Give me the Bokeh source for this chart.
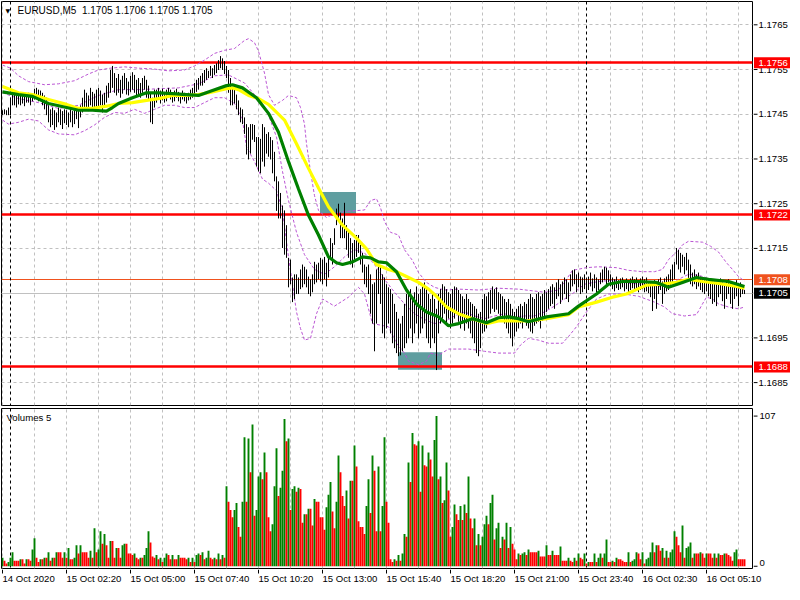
from bokeh.plotting import figure
from bokeh.layouts import column, row
from bokeh.models import FixedTicker, Label, Range1d
from bokeh.embed import file_html
from bokeh.resources import INLINE
from bokeh.core.properties import value

# ---------------- data ----------------
BASE_PRICE = 1.1700   # all "pips" values below are offsets from this price
PIP = 0.0001

bar_high_pips = [
    45.9, 46.1, 45.9, 46.5, 48.7, 49.8, 50.3, 49.4, 49.8, 49.2,
    49.6, 49.0, 49.4, 49.8, 49.2, 49.6, 50.7, 50.9, 50.5, 50.3,
    49.8, 49.2, 48.7, 47.0, 46.1, 46.5, 45.9, 45.4, 46.5, 46.1,
    45.7, 46.1, 45.9, 45.4, 46.1, 45.7, 46.1, 46.5, 46.1, 47.0,
    48.7, 50.5, 49.8, 49.2, 50.9, 50.0, 49.6, 50.5, 50.9, 50.3,
    49.4, 49.8, 51.4, 52.0, 54.9, 55.8, 54.2, 53.1, 54.0, 52.7,
    53.6, 54.2, 53.1, 52.3, 53.6, 54.4, 53.8, 52.7, 53.1, 52.0,
    53.1, 53.6, 52.7, 51.4, 49.8, 48.7, 50.5, 50.5, 50.9, 50.3,
    50.7, 50.0, 50.5, 50.9, 50.5, 49.8, 50.3, 50.7, 50.0, 49.6,
    50.3, 49.8, 49.4, 49.8, 50.5, 50.9, 52.0, 52.7, 53.1, 53.6,
    54.2, 54.9, 55.3, 54.7, 55.8, 55.3, 56.0, 56.4, 57.1, 58.0,
    57.5, 56.9, 55.8, 54.9, 53.1, 50.9, 50.5, 49.4, 48.1, 46.5,
    46.1, 44.3, 42.8, 42.1, 42.8, 42.8, 42.6, 39.9, 39.9, 39.5,
    42.8, 42.1, 40.6, 41.0, 39.9, 39.2, 36.6, 31.1, 30.0, 27.4,
    24.6, 23.5, 20.2, 12.9, 12.5, 8.5, 9.2, 9.2, 8.5, 10.3,
    11.4, 10.9, 10.3, 8.7, 8.1, 9.2, 12.0, 11.4, 11.8, 12.9,
    12.5, 13.1, 11.8, 13.6, 17.3, 16.2, 19.5, 23.9, 25.0, 23.0,
    21.7, 25.2, 20.2, 19.1, 17.3, 16.2, 16.9, 18.0, 18.0, 15.8,
    14.0, 11.4, 10.9, 11.4, 9.2, 7.0, 7.4, 10.3, 11.4, 10.9,
    9.2, 8.5, 7.0, 6.3, 5.9, 4.8, 2.6, 0.8, -0.7, -1.8,
    -0.1, 2.6, 4.8, 4.8, 5.9, 3.7, 5.2, 6.5, 4.8, 5.9,
    7.0, 7.4, 5.9, 4.8, 3.7, 4.8, 3.7, 1.5, 4.8, 5.9,
    7.0, 6.5, 5.9, 5.2, 4.8, 5.9, 6.5, 6.3, 5.7, 4.8,
    4.3, 3.7, 4.8, 3.7, 3.0, 2.6, 2.1, 1.5, 0.4, 0.8,
    3.7, 4.8, 4.3, 5.2, 5.7, 6.5, 5.9, 6.3, 5.2, 4.8,
    4.3, 3.7, 3.0, 3.7, 2.6, 1.5, 0.8, 1.5, 2.1, 2.6,
    2.1, 3.0, 2.6, 3.7, 4.8, 4.1, 3.7, 4.8, 5.2, 4.3,
    4.8, 5.7, 5.2, 5.9, 6.5, 7.0, 6.3, 7.4, 8.1, 7.0,
    7.6, 8.5, 8.1, 7.4, 9.2, 10.1, 10.3, 9.2, 9.6, 8.7,
    8.5, 9.2, 8.1, 8.7, 9.6, 8.3, 9.2, 8.5, 8.1, 9.6,
    10.3, 10.9, 10.7, 10.1, 9.2, 8.5, 8.1, 8.7, 7.9, 8.3,
    8.5, 7.9, 8.3, 7.6, 8.3, 8.7, 8.1, 8.5, 7.9, 8.3,
    8.7, 8.1, 8.5, 7.6, 7.4, 7.0, 7.9, 7.4, 8.1, 8.5,
    7.6, 8.3, 8.7, 9.2, 10.3, 11.4, 12.0, 15.1, 14.7, 14.0,
    13.6, 13.1, 14.0, 12.5, 11.4, 9.6, 10.3, 9.2, 9.6, 8.7,
    8.5, 8.1, 8.3, 7.9, 7.4, 8.1, 7.6, 7.0, 7.9, 8.3,
    7.4, 7.0, 7.6, 8.1, 7.2, 6.5, 7.4, 7.9, 7.0, 7.4,
    6.5, 5.7,
]

bar_low_pips = [
    44.8, 45.0, 44.8, 44.8, 44.8, 47.0, 47.0, 46.5, 47.2, 47.0,
    47.4, 46.8, 47.6, 47.6, 47.0, 47.9, 48.3, 48.7, 47.9, 48.1,
    47.0, 46.1, 44.8, 43.2, 42.1, 42.6, 41.5, 42.1, 43.2, 42.6,
    41.7, 43.0, 42.6, 42.1, 43.2, 42.1, 42.8, 43.9, 41.9, 44.3,
    45.4, 46.5, 46.1, 45.7, 47.0, 46.1, 45.7, 46.5, 46.1, 47.0,
    45.4, 46.5, 47.6, 48.7, 49.8, 50.9, 49.8, 49.2, 49.8, 48.7,
    49.6, 50.5, 49.4, 49.2, 50.0, 50.5, 49.8, 49.2, 49.4, 48.7,
    49.8, 50.5, 48.7, 48.1, 43.2, 42.8, 46.5, 47.6, 48.3, 47.4,
    48.1, 47.6, 47.9, 48.7, 48.3, 47.6, 47.9, 48.7, 47.9, 47.4,
    48.3, 47.9, 47.4, 48.1, 48.3, 48.7, 49.4, 50.0, 50.5, 51.4,
    51.4, 52.0, 52.7, 53.1, 53.6, 53.1, 53.8, 54.2, 54.9, 55.3,
    54.9, 54.0, 53.1, 49.8, 47.0, 47.0, 47.4, 46.1, 44.8, 43.2,
    42.8, 40.6, 36.0, 34.9, 36.2, 39.3, 38.8, 33.3, 32.2, 31.8,
    34.4, 33.3, 36.2, 35.5, 34.9, 31.8, 30.0, 23.4, 21.7, 21.7,
    15.1, 13.6, 12.9, 6.3, 7.0, 3.0, 3.7, 4.8, 4.8, 5.9,
    6.3, 7.0, 6.3, 4.8, 4.3, 5.2, 7.0, 7.4, 8.1, 7.6,
    7.0, 8.1, 6.5, 8.5, 12.9, 11.4, 15.8, 20.2, 21.3, 17.3,
    17.3, 17.3, 14.7, 12.9, 11.4, 10.7, 12.5, 13.1, 14.0, 11.4,
    9.6, 7.0, 6.3, 4.8, 0.4, -1.8, -8.0, -1.8, 4.8, 2.6,
    -4.0, -5.1, -2.9, -1.8, -4.0, -6.2, -7.3, -8.4, -9.1, -8.9,
    -8.0, -7.3, -6.2, -5.1, -2.9, -6.2, -4.0, -1.8, -5.1, -4.0,
    -2.9, -1.8, -5.1, -6.2, -7.3, -5.1, -6.2, -12.2, -4.0, -1.8,
    -0.7, 0.4, -1.8, -0.7, -2.9, -1.8, -0.7, 0.4, -1.4, -2.9,
    -1.8, -3.4, -1.8, -2.9, -4.0, -5.1, -6.2, -8.4, -9.1, -7.3,
    -4.0, -3.6, -2.9, -0.7, 0.4, 1.5, 0.8, 1.3, 0.4, -0.1,
    -0.7, -1.8, -2.9, -4.0, -5.1, -6.9, -4.7, -3.6, -2.9, -1.8,
    -2.9, -1.4, -2.3, -2.9, -3.6, -4.0, -2.3, -1.8, -1.4, -2.9,
    -1.2, -0.1, 0.8, 1.5, 2.1, 2.6, 1.5, 3.7, 4.3, 2.6,
    3.5, 4.8, 3.7, 3.0, 5.4, 6.5, 7.0, 5.2, 6.3, 4.8,
    5.2, 5.9, 5.0, 5.7, 6.5, 5.4, 6.1, 5.2, 5.7, 7.0,
    7.4, 7.9, 7.0, 7.4, 6.5, 5.9, 5.4, 6.1, 5.7, 5.9,
    6.3, 5.4, 5.9, 5.2, 5.7, 6.1, 5.4, 5.9, 5.2, 5.7,
    5.9, 5.2, 5.4, 5.0, 4.1, 1.0, 3.7, 1.5, 4.8, 5.7,
    2.6, 4.8, 5.4, 5.7, 6.5, 7.4, 8.1, 11.4, 10.3, 9.6,
    10.9, 9.2, 10.1, 8.1, 7.0, 6.5, 7.0, 5.9, 6.5, 5.7,
    5.2, 4.8, 5.4, 4.3, 3.7, 2.6, 3.0, 2.1, 4.1, 4.8,
    3.2, 1.5, 3.7, 4.8, 2.6, 1.5, 3.7, 4.3, 2.1, 4.1,
    4.8, 4.8,
]

volumes = [
    6, 4, 2, 3, 6, 10, 4, 4, 4, 5,
    5, 2, 5, 5, 4, 12, 20, 6, 3, 5,
    5, 6, 6, 10, 4, 6, 6, 10, 10, 10,
    6, 10, 6, 13, 5, 5, 6, 15, 9, 15,
    10, 10, 10, 6, 11, 6, 27, 10, 12, 25,
    16, 23, 15, 6, 18, 18, 6, 13, 13, 6,
    15, 16, 16, 9, 9, 8, 9, 6, 5, 6,
    6, 8, 13, 25, 17, 7, 6, 8, 5, 6,
    3, 6, 9, 8, 5, 8, 5, 5, 8, 6,
    6, 6, 5, 6, 3, 6, 3, 8, 9, 8,
    10, 5, 6, 11, 6, 5, 6, 5, 9, 5,
    8, 6, 57, 46, 40, 35, 40, 45, 28, 21,
    46, 92, 46, 91, 67, 101, 36, 40, 64, 67,
    62, 81, 67, 35, 25, 30, 57, 84, 50, 56,
    68, 105, 89, 91, 40, 55, 57, 53, 56, 55,
    31, 37, 37, 41, 41, 29, 48, 46, 46, 35,
    35, 26, 42, 51, 60, 39, 27, 46, 79, 67,
    50, 43, 54, 34, 61, 61, 86, 71, 32, 28,
    28, 23, 43, 62, 38, 79, 68, 25, 71, 25,
    43, 92, 46, 31, 5, 3, 5, 4, 8, 4,
    9, 23, 21, 74, 60, 95, 87, 86, 89, 53,
    86, 72, 71, 81, 76, 64, 90, 107, 62, 64,
    45, 47, 74, 54, 21, 28, 44, 37, 33, 43,
    33, 44, 38, 64, 34, 27, 34, 15, 23, 15,
    21, 30, 36, 30, 45, 51, 19, 27, 31, 13,
    21, 19, 31, 13, 28, 16, 12, 5, 9, 8,
    9, 10, 8, 12, 10, 10, 10, 10, 11, 7,
    7, 7, 15, 8, 8, 11, 8, 8, 8, 14,
    4, 4, 4, 6, 4, 3, 6, 4, 9, 6,
    5, 9, 2, 3, 3, 3, 9, 3, 6, 9,
    6, 9, 19, 3, 3, 4, 3, 6, 5, 5,
    4, 3, 3, 10, 3, 4, 5, 10, 9, 5,
    10, 2, 5, 6, 10, 17, 10, 15, 15, 11,
    13, 6, 11, 6, 10, 12, 25, 21, 15, 10,
    29, 6, 13, 14, 17, 6, 9, 9, 9, 10,
    9, 6, 9, 9, 9, 6, 9, 6, 9, 8,
    8, 9, 9, 8, 7, 4, 10, 12, 5, 5,
    5, 5,
]

# moving averages (read at sample bars)
ma_slow_bars = [0, 8, 15, 23, 32, 38, 45, 52, 58, 65, 72, 78, 85, 92, 98, 105, 112, 115, 118, 123,
                128, 133, 141, 147, 153, 158, 163, 170, 177, 182, 187, 193, 198, 203, 208, 213, 217, 222, 228, 235,
                242, 248, 255, 263, 272, 283, 288, 297, 305, 312, 322, 330, 337, 343, 350, 358, 367, 371]
ma_slow_pips = [51.2, 49.8, 49.4, 48.3, 47.2, 46.3, 46.3, 46.8, 47.4, 47.6, 48.1, 48.5, 49.2, 49.2, 49.4, 50.0, 50.7, 50.9, 50.5, 49.2,
                48.5, 47.2, 43.7, 38.4, 32.9, 28.5, 24.3, 20.2, 17.3, 14.9, 11.4, 10.3, 9.6, 8.5, 7.4, 5.9, 4.3, 1.9, 0.4, -0.7,
                -1.8, -1.2, -1.2, -1.2, -0.7, 0.2, 1.9, 3.0, 4.1, 4.8, 6.8, 7.0, 7.4, 8.1, 7.6, 7.2, 6.5, 6.1]

ma_fast_bars = [0, 8, 15, 23, 32, 38, 45, 52, 55, 58, 65, 72, 78, 85, 92, 98, 105, 112, 115, 120,
                127, 133, 138, 143, 148, 153, 158, 163, 167, 170, 175, 180, 184, 188, 192, 197, 202, 207, 212, 218,
                223, 228, 235, 242, 248, 253, 258, 263, 272, 283, 288, 297, 303, 310, 318, 327, 333, 340, 347, 353,
                363, 371]
ma_fast_pips = [50.0, 49.4, 49.0, 47.4, 46.5, 45.9, 45.9, 45.7, 46.5, 47.4, 48.7, 49.8, 49.8, 49.6, 49.4, 49.2, 50.3, 51.4, 51.6, 50.9,
                48.7, 45.2, 41.0, 34.4, 28.3, 22.4, 18.0, 13.1, 11.8, 11.4, 12.0, 13.1, 12.9, 12.0, 11.8, 9.8, 5.7, 2.6, 0.8, -0.3,
                -2.3, -1.8, -0.7, -1.6, -0.5, -0.3, -0.7, -1.4, -0.3, 0.4, 2.1, 4.8, 7.0, 7.6, 7.6, 7.4, 6.3, 7.4, 8.5, 8.1,
                7.6, 6.5]

# Bollinger bands (read at sample bars)
bb_upper_bars = [0, 4, 8, 13, 21, 28, 36, 43, 48, 54, 61, 68, 76, 83, 91, 96, 101, 106, 111, 116,
                 121, 123, 126, 128, 131, 133, 136, 140, 143, 147, 149, 151, 152, 154, 156, 158, 162, 167, 173, 181,
                 184, 187, 189, 191, 194, 198, 201, 205, 208, 212, 216, 221, 228, 238, 248, 258, 271, 278, 282, 285,
                 292, 298, 307, 313, 320, 326, 330, 333, 337, 340, 343, 350, 354, 358, 362, 365, 368, 371]
bb_upper_pips = [56.0, 55.3, 53.6, 52.3, 51.6, 51.8, 52.5, 54.0, 54.9, 55.3, 55.6, 55.3, 55.1, 54.7, 54.9, 55.8, 57.1, 58.6, 59.3, 59.7,
                 61.5, 61.9, 61.0, 59.1, 54.2, 49.4, 47.0, 48.1, 49.2, 48.7, 46.5, 42.8, 38.4, 32.2, 26.8, 23.5, 21.9, 23.0, 23.3, 23.6,
                 25.7, 26.1, 24.1, 21.0, 18.6, 18.0, 14.7, 12.3, 9.6, 7.4, 6.3, 5.7, 5.9, 5.7, 6.1, 5.9, 5.2, 5.7, 8.1, 10.1,
                 10.7, 10.9, 10.7, 10.1, 9.8, 9.8, 10.3, 12.5, 14.2, 15.8, 16.6, 16.4, 15.5, 14.2, 11.8, 10.3, 8.7, 7.7]

bb_mid_bars = [0, 8, 18, 28, 38, 48, 58, 68, 78, 88, 98, 106, 113, 121, 126, 131, 133, 137, 140, 143,
               147, 151, 156, 161, 166, 171, 176, 181, 186, 191, 196, 201, 206, 211, 216, 221, 226, 231, 236, 241,
               246, 251, 256, 261, 266, 271, 276, 281, 286, 291, 298, 306, 313, 321, 328, 333, 338, 343, 348, 353,
               361, 371]
bb_mid_pips = [49.8, 48.5, 47.6, 46.3, 47.0, 49.2, 50.5, 50.5, 50.7, 50.9, 51.8, 53.6, 53.8, 52.0, 49.4, 46.5, 44.8, 39.9, 32.2, 25.7,
               18.6, 13.6, 10.3, 9.2, 10.9, 13.1, 14.7, 14.0, 11.4, 8.1, 5.2, 2.6, 0.4, -0.9, -1.8, -1.4, -0.1, 0.8, -0.1, -0.7,
               -0.1, 0.4, -0.3, -0.1, -0.1, 0.8, 2.1, 3.7, 5.2, 7.0, 7.6, 7.9, 7.2, 7.0, 6.5, 6.5, 8.1, 9.2, 9.0, 8.3,
               7.0, 5.7]

bb_lower_bars = [0, 3, 8, 13, 18, 23, 28, 36, 41, 46, 51, 56, 61, 66, 71, 76, 81, 86, 91, 96,
                 101, 106, 111, 116, 120, 122, 126, 130, 133, 137, 140, 143, 147, 149, 151, 154, 157, 160, 166, 173,
                 178, 181, 185, 193, 197, 201, 203, 208, 212, 214, 218, 223, 233, 241, 248, 256, 259, 263, 268, 273,
                 280, 283, 287, 292, 297, 303, 311, 318, 326, 331, 335, 341, 347, 350, 352, 355, 358, 363, 368, 371]
bb_lower_pips = [43.7, 42.8, 43.2, 43.9, 43.5, 41.5, 40.6, 40.4, 41.3, 42.6, 44.3, 45.4, 45.2, 46.1, 45.2, 46.1, 47.0, 47.0, 46.5, 46.5,
                 47.6, 48.7, 48.7, 47.4, 43.7, 37.7, 34.4, 30.5, 29.6, 27.9, 23.5, 13.1, 0.8, -2.9, -5.5, -5.1, 0.4, 3.7, 2.1, 4.1,
                 6.3, 4.8, -1.8, -2.5, -6.2, -8.4, -10.2, -11.0, -10.2, -8.4, -8.9, -7.5, -7.5, -8.0, -8.4, -8.4, -6.6, -5.1, -5.5, -6.2,
                 -6.2, -4.7, -2.5, 0.8, 3.7, 4.8, 4.8, 4.3, 3.0, 1.9, 0.4, -0.1, 0.2, 2.6, 4.1, 3.7, 2.6, 1.9, 1.5, 1.9]

# levels and zones
level_prices = [1.17565, 1.17225, 1.16885]
level_texts = ["1.1756", "1.1722", "1.1688"]
ask_price, ask_text = 1.1708, "1.1708"
bid_price, bid_text = 1.1705, "1.1705"
zone_left = [158.75, 197.75]
zone_right = [176.75, 219.75]
zone_top = [1.17276, 1.16918]
zone_bottom = [1.17226, 1.16879]

# axes
price_ticks = [1.1685, 1.1695, 1.1705, 1.1715, 1.1725, 1.1735, 1.1745, 1.1755, 1.1765]
price_tick_labels = ["1.1685", "1.1695", "1.1705", "1.1715", "1.1725", "1.1735", "1.1745", "1.1755", "1.1765"]
volume_ticks = [0, 107]
volume_tick_labels = ["0", "107"]
time_label_bars = [0, 32, 64, 96, 128, 160, 192, 224, 256, 288, 320, 352]
time_labels = ["14 Oct 2020", "15 Oct 02:20", "15 Oct 05:00", "15 Oct 07:40", "15 Oct 10:20",
               "15 Oct 13:00", "15 Oct 15:40", "15 Oct 18:20", "15 Oct 21:00", "15 Oct 23:40",
               "16 Oct 02:30", "16 Oct 05:10"]
grid_bars = list(range(0, 372, 16))
day_start_bars = [4, 292]
title_text = "EURUSD,M5\u00a0 1.1705 1.1706 1.1705 1.1705"

# ---------------- helpers / style ----------------
def to_price(pips):
    return [round(BASE_PRICE + v * PIP, 6) for v in pips]

FONT = "Liberation Sans"
FS = "9.6px"
TITLE_FS = "10px"
TOTAL_W = 790
FRAME_W = 751          # 2 px per bar
P_W = FRAME_W + 2
R_W = TOTAL_W - P_W
H1 = 406
FRAME_H1 = H1 - 2
H2 = 163
FRAME_H2 = H2 - 3
HB = 584 - H1 - H2
GRID_COLOR = "#C0C0C0"
ASK_COLOR = "#F0521E"
BAND_COLOR = "#BA55D3"

n = len(volumes)
bars = list(range(n))
vol_colors = ["#008000"] + ["#008000" if volumes[i] > volumes[i - 1] else "#FF0000" for i in range(1, n)]

x_range = Range1d(-0.5, -0.5 + FRAME_W / 2)
price_range = Range1d(1.167988, 1.177021)
volume_range = Range1d(-1.6, 112.4)


def style_grid(g):
    g.grid_line_color = GRID_COLOR
    g.grid_line_dash = "3 3"
    g.grid_line_width = 1


def bare(fig):
    fig.outline_line_color = None
    fig.xgrid.visible = False
    fig.ygrid.visible = False


def scale_strip(height, y_range, top, bottom):
    return figure(width=R_W, height=height, x_range=Range1d(0, R_W), y_range=y_range,
                  output_backend="svg", toolbar_location=None, x_axis_location=None,
                  y_axis_location=None, min_border_left=0, min_border_right=0,
                  min_border_top=top, min_border_bottom=bottom)


# ---------------- price panel ----------------
p1 = figure(width=P_W, height=H1, x_range=x_range, y_range=price_range,
            output_backend="svg", toolbar_location=None, x_axis_location=None,
            y_axis_location=None, min_border_left=1, min_border_right=1,
            min_border_top=1, min_border_bottom=1)
p1.outline_line_color = "black"
p1.outline_line_alpha = 1.0
p1.xgrid.ticker = FixedTicker(ticks=grid_bars)
p1.ygrid.ticker = FixedTicker(ticks=price_ticks)
style_grid(p1.xgrid)
style_grid(p1.ygrid)

p1.quad(left=zone_left, right=zone_right, top=zone_top, bottom=zone_bottom,
        fill_color="#5F9EA0", line_color=None)
p1.hspan(y=[bid_price], line_color=GRID_COLOR, line_width=1)
p1.hspan(y=[ask_price], line_color=ASK_COLOR, line_width=1)
p1.hspan(y=level_prices, line_color="#FF0000", line_width=2.5)
p1.vspan(x=day_start_bars, line_color="black", line_dash="3 3", line_width=1)

for bx, by in ((bb_upper_bars, bb_upper_pips), (bb_mid_bars, bb_mid_pips), (bb_lower_bars, bb_lower_pips)):
    p1.line(bx, to_price(by), line_color=BAND_COLOR, line_width=1, line_dash="3 2")

p1.segment(x0=bars, x1=bars, y0=to_price(bar_low_pips), y1=to_price(bar_high_pips),
           line_color="black", line_width=1)

p1.line(ma_slow_bars, to_price(ma_slow_pips), line_color="#FFFF00", line_width=3.2)
p1.line(ma_fast_bars, to_price(ma_fast_pips), line_color="#008000", line_width=3.2)

p1.add_layout(Label(x=4, y=FRAME_H1 - 9, x_units="screen", y_units="screen", text="\u25bc",
                    text_font="DejaVu Sans", text_font_size="6px", text_color="black",
                    text_baseline="middle"))
p1.add_layout(Label(x=16, y=FRAME_H1 - 9, x_units="screen", y_units="screen", text=title_text,
                    text_font=FONT, text_font_size=TITLE_FS, text_color="black",
                    text_baseline="middle"))

# ---------------- price scale strip ----------------
r1 = scale_strip(H1, price_range, 1, 1)
bare(r1)
r1.segment(x0=[0] * len(price_ticks), x1=[4] * len(price_ticks), y0=price_ticks, y1=price_ticks,
           line_color="black", line_width=1)
r1.text(x=[5] * len(price_ticks), y=price_ticks, text=price_tick_labels,
        text_font=value(FONT), text_font_size=value(FS), text_color="black",
        text_align="left", text_baseline="middle")

box_prices = level_prices + [ask_price, bid_price]
box_texts = level_texts + [ask_text, bid_text]
box_colors = ["#FF0000"] * len(level_prices) + [ASK_COLOR, "black"]
r1.rect(x=[18.5] * len(box_prices), y=box_prices, width=36, height=11,
        width_units="screen", height_units="screen", fill_color=box_colors, line_color=None)
r1.text(x=[5] * len(box_prices), y=box_prices, text=box_texts,
        text_font=value(FONT), text_font_size=value(FS), text_color="white",
        text_align="left", text_baseline="middle")

# ---------------- volume panel ----------------
p2 = figure(width=P_W, height=H2, x_range=x_range, y_range=volume_range,
            output_backend="svg", toolbar_location=None, x_axis_location=None,
            y_axis_location=None, min_border_left=1, min_border_right=1,
            min_border_top=2, min_border_bottom=1)
p2.outline_line_color = "black"
p2.outline_line_alpha = 1.0
p2.xgrid.ticker = FixedTicker(ticks=grid_bars)
style_grid(p2.xgrid)
p2.ygrid.visible = False

p2.vspan(x=day_start_bars, line_color="black", line_dash="3 3", line_width=1)
p2.vbar(x=bars, top=volumes, bottom=0, width=0.95, fill_color=vol_colors, line_color=None)

p2.add_layout(Label(x=5, y=FRAME_H2 - 9, x_units="screen", y_units="screen", text="Volumes 5",
                    text_font=FONT, text_font_size=FS, text_color="black", text_baseline="middle"))

# ---------------- volume scale strip ----------------
r2 = scale_strip(H2, volume_range, 2, 1)
bare(r2)
r2.segment(x0=[0] * len(volume_ticks), x1=[4] * len(volume_ticks), y0=volume_ticks, y1=volume_ticks,
           line_color="black", line_width=1)
r2.text(x=[6], y=[volume_ticks[1]], text=[volume_tick_labels[1]],
        text_font=value(FONT), text_font_size=value(FS), text_color="black",
        text_align="left", text_baseline="middle")
r2.text(x=[6], y=[volume_ticks[0]], text=[volume_tick_labels[0]],
        text_font=value(FONT), text_font_size=value(FS), text_color="black",
        text_align="left", text_baseline="bottom")

# ---------------- time scale strip ----------------
b1 = figure(width=TOTAL_W, height=HB, x_range=Range1d(-1.0, -1.0 + TOTAL_W / 2),
            y_range=Range1d(0, HB), output_backend="svg", toolbar_location=None,
            x_axis_location=None, y_axis_location=None, min_border_left=0, min_border_right=0,
            min_border_top=0, min_border_bottom=0)
bare(b1)
b1.segment(x0=time_label_bars, x1=time_label_bars, y0=[HB] * len(time_label_bars),
           y1=[HB - 4] * len(time_label_bars), line_color="black", line_width=1)
b1.text(x=time_label_bars, y=[HB - 9] * len(time_label_bars), text=time_labels,
        text_font=value(FONT), text_font_size=value(FS), text_color="black",
        text_align="left", text_baseline="middle")

layout = column(row(p1, r1, spacing=0), row(p2, r2, spacing=0), b1, spacing=0)
open("out.html", "w").write(file_html(layout, INLINE))
